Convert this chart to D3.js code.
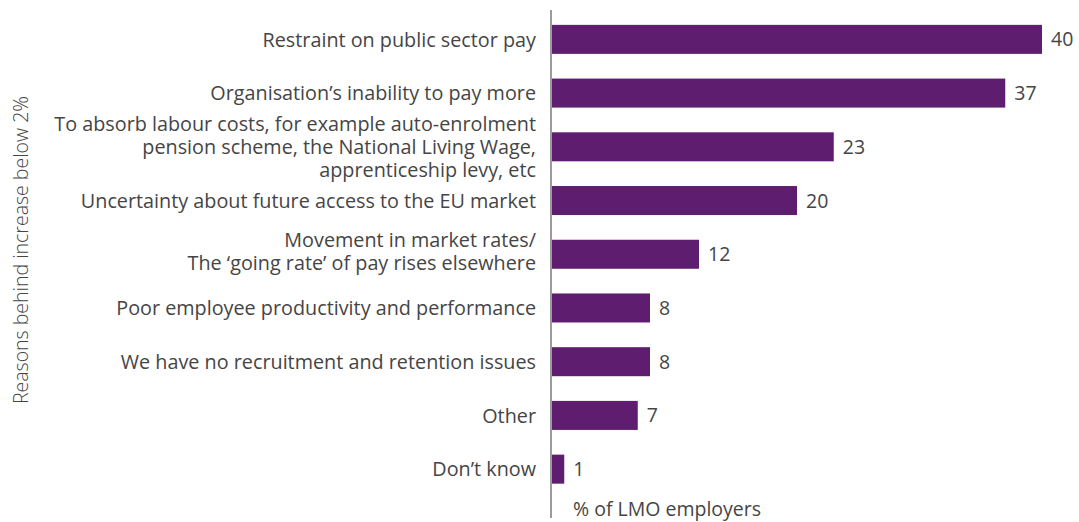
<!DOCTYPE html>
<html>
<head>
<meta charset="utf-8">
<script src="https://cdn.jsdelivr.net/npm/d3@7"></script>
<style>
  html, body { margin: 0; padding: 0; background: #fff; }
  svg { display: block; }
  text { font-family: "Open Sans", "Noto Sans", sans-serif; fill: #454545; }
</style>
</head>
<body>
<svg id="chart" width="1079" height="522"></svg>
<script>
// Reasons for pay increases below 2% (% of LMO employers)
const categories = [
  ["Restraint on public sector pay"],
  ["Organisation\u2019s inability to pay more"],
  ["To absorb labour costs, for example auto-enrolment",
   "pension scheme, the National Living Wage,",
   "apprenticeship levy, etc"],
  ["Uncertainty about future access to the EU market"],
  ["Movement in market rates/",
   "The \u2018going rate\u2019 of pay rises elsewhere"],
  ["Poor employee productivity and performance"],
  ["We have no recruitment and retention issues"],
  ["Other"],
  ["Don\u2019t know"]
];
const values = [40, 37, 23, 20, 12, 8, 8, 7, 1];
const yAxisTitle = "Reasons behind increase below 2%";
const xAxisTitle = "% of LMO employers";

const svg = d3.select("#chart");
const x0 = 552, plotTop = 12.5, plotBottom = 496;

const x = d3.scaleLinear().domain([0, 40]).range([x0, x0 + 490]);
const y = d3.scaleBand()
  .domain(d3.range(values.length))
  .range([plotTop, plotBottom])
  .paddingInner(0.46)
  .paddingOuter(0.23);

// bars
svg.append("g").selectAll("rect")
  .data(values)
  .join("rect")
  .attr("x", x(0))
  .attr("y", (d, i) => y(i))
  .attr("width", d => x(d) - x(0))
  .attr("height", y.bandwidth())
  .attr("fill", "#5f1d6f");

// value labels
svg.append("g").selectAll("text")
  .data(values)
  .join("text")
  .attr("x", d => x(d) + 9)
  .attr("y", (d, i) => y(i) + y.bandwidth() / 2)
  .attr("dy", "0.36em")
  .style("font-size", "19.5px")
  .text(d => d);

// category labels (multi-line, right aligned)
const lineH = 23;
const lab = svg.append("g").selectAll("text")
  .data(categories)
  .join("text")
  .attr("text-anchor", "end")
  .style("font-size", "19.8px")
  .attr("transform", (d, i) => {
    const c = y(i) + y.bandwidth() / 2;
    const off = d.length === 2 ? -3 : 0;
    return `translate(536,${c - (d.length - 1) * lineH / 2 + off})`;
  });
lab.selectAll("tspan")
  .data(d => d)
  .join("tspan")
  .attr("x", 0)
  .attr("y", (d, j) => j * lineH)
  .attr("dy", "0.36em")
  .text(d => d);

// vertical axis line
svg.append("line")
  .attr("x1", 551).attr("x2", 551)
  .attr("y1", 10).attr("y2", 518)
  .attr("stroke", "#7a7a7a")
  .attr("stroke-width", 1.5);

// axis titles
svg.append("text")
  .attr("transform", "translate(28,250) rotate(-90)")
  .attr("text-anchor", "middle")
  .style("font-size", "19.5px")
  .style("font-weight", 300)
  .text(yAxisTitle);

svg.append("text")
  .attr("x", 573)
  .attr("y", 516)
  .style("font-size", "19.5px")
  .text(xAxisTitle);
</script>
</body>
</html>
